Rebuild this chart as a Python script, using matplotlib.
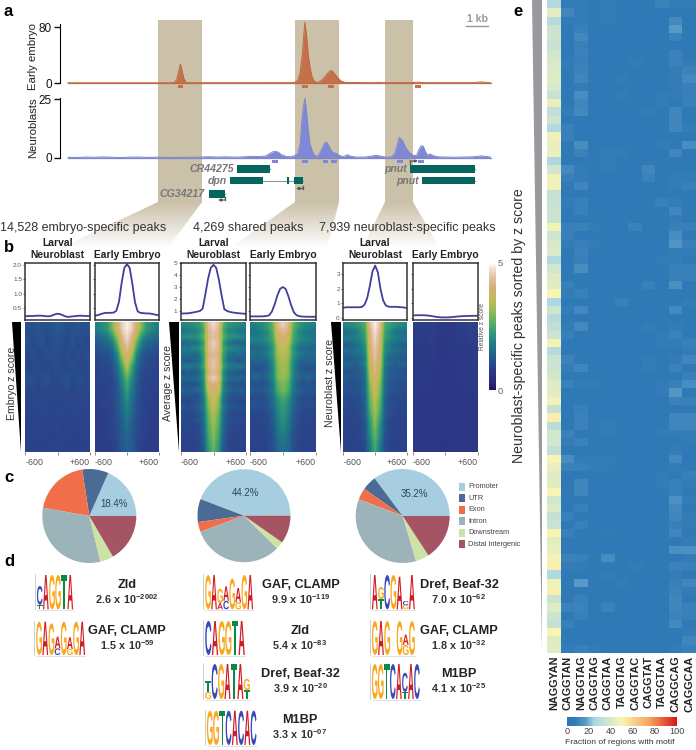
"""Multi-panel figure: ChIP tracks, z score heatmaps, annotation pies, motifs, motif heatmap"""
import numpy as np
import matplotlib
matplotlib.use('Agg')
import matplotlib.pyplot as plt
from matplotlib.colors import LinearSegmentedColormap
from matplotlib.patches import PathPatch, Polygon, Rectangle
from matplotlib.path import Path
from matplotlib.textpath import TextPath
from matplotlib.font_manager import FontProperties
from matplotlib.transforms import Affine2D

plt.rcParams['font.family'] = ['Liberation Sans', 'DejaVu Sans']
plt.rcParams['mathtext.fontset'] = 'custom'
plt.rcParams['mathtext.bf'] = 'Liberation Sans:bold'
plt.rcParams['mathtext.rm'] = 'Liberation Sans'

W, H = 696, 750

# ---- panel a: tracks, positions in kb
embryo_kb = [0, 4.7, 4.85, 4.95, 5.05, 5.11, 5.18, 5.27, 5.36, 5.5, 10.2, 10.3, 10.45, 10.55, 10.65, 10.72, 10.77,
             10.85, 10.92, 11.0, 11.1, 11.2, 11.3, 11.45, 11.6, 11.75, 11.9, 11.98, 12.1, 12.25, 12.4, 12.6, 13.5,
             14.0, 14.1, 14.25, 15.6, 15.9, 16.2, 18.4, 18.77, 19.2]
embryo_val = [.3, .3, 1, 6, 20, 27, 18, 6, 1, .4, .5, .8, 4, 15, 40, 70, 87,
              65, 40, 22, 8, 2.5, .7, 2, 6, 12, 17, 18, 14, 8, 3, .8, .5,
              .5, 1.2, .5, .5, 1.3, .5, .5, 1.5, .4]
neuro_kb = [0, .4, .8, 1.2, 1.6, 2, 2.4, 2.8, 3.2, 3.6, 4, 4.4, 4.8, 5.2, 5.6, 6, 6.4, 6.8, 7.2, 7.6, 8, 8.4, 8.7, 9,
            9.15, 9.3, 9.42, 9.55, 9.7, 9.9, 10.1, 10.3, 10.45, 10.55, 10.62, 10.7, 10.77, 10.85, 10.93, 11.0, 11.1,
            11.2, 11.3, 11.42, 11.55, 11.65, 11.75, 11.85, 11.95, 12.05, 12.15, 12.25, 12.4, 12.55, 12.7, 12.85,
            13.1, 13.5, 13.8, 14, 14.2, 14.5, 14.7, 14.85, 14.95, 15.05, 15.2, 15.35, 15.5, 15.7, 15.85, 15.95,
            16.05, 16.15, 16.25, 16.35, 16.45, 16.6, 16.8, 17.2, 17.6, 18, 18.4, 18.8, 19.2]
neuro_val = [.3, .2, .4, .3, .45, .3, .2, .35, .4, .25, .35, .3, .2, .35, .3, .4, .55, .4, .5, .35, .5, .7, .6, .9,
             1.8, 2.6, 2.9, 2.5, 1.4, .7, .5, 1.0, 2, 6, 15, 22, 25.5, 19, 11, 6, 3,
             1.2, .7, 1.6, 4, 6.2, 6.8, 5.3, 3.4, 2.3, 2.1, 1.6, .8, .7, 1.4, .7,
             .4, .4, .8, 1.2, .8, .3, .5, 1.8, 5, 8.8, 7.5, 4.5, 2.5, 1, 1.2, 3.6,
             5.2, 5, 2.6, 1.2, 1.7, 1.0, .5, .4, .3, .4, .5, .9, .4]
embryo_peaks = [5.11, 10.77, 11.95, 15.9]
neuro_peaks = [9.41, 10.77, 11.7, 12.1, 15.1, 16.05]

gene_names = ['CR44275', 'dpn', 'CG34217', 'pnut', 'pnut']
gene_exons = [[(7.68, 9.16)], [(7.36, 8.86), (9.94, 10.05), (10.27, 10.68)], [(6.4, 7.13)],
              [(15.55, 18.5)], [(16.1, 18.5)]]
gene_rows = [0, 1, 2, 0, 1]
peak_titles = ['14,528 embryo-specific peaks', '4,269 shared peaks', '7,939 neuroblast-specific peaks']

# ---- panel b: mean profiles, -600..600 every 50 bp
profile_x = list(range(-600, 601, 50))
prof_nb_emb = [.21, .22, .22, .22, .23, .23, .23, .22, .21, .21, .24, .28, .3, .28, .24, .2, .19, .2, .21, .22, .23, .23, .22, .22, .22]
prof_em_emb = [.23, .25, .28, .31, .33, .33, .33, .34, .4, .72, 1.38, 1.9, 2.03, 1.9, 1.35, .7, .38, .33, .32, .31, .31, .3, .28, .26, .24]
prof_nb_sha = [.78, .8, .8, .82, .86, .9, .95, 1.0, 1.2, 2.4, 3.7, 4.6, 4.85, 4.6, 3.6, 2.3, 1.15, 1.0, .93, .88, .85, .82, .8, .78, .76]
prof_em_sha = [.55, .55, .55, .55, .55, .56, .58, .65, .95, 1.55, 2.3, 2.85, 3.0, 2.85, 2.25, 1.5, .9, .65, .57, .54, .53, .52, .52, .52, .52]
prof_nb_nbs = [.68, .72, .72, .72, .72, .72, .72, .74, .9, 1.35, 2.2, 3.2, 3.6, 3.15, 2.0, 1.2, .85, .76, .75, .75, .75, .73, .72, .7, .66]
prof_em_nbs = [.16, .16, .17, .17, .17, .16, .14, .11, .08, .05, .03, .02, .02, .02, .03, .05, .07, .09, .1, .11, .12, .12, .13, .13, .13]

# z score heatmaps, rows from top to bottom, columns -600..600 every 100 bp
hm_nb_emb = [[1.1, 1.1, 1.2, 1.1, 1.1, 1.2, 1.3, 1.2, 1.1, 1.1, 1.2, 1.1, 1.1],
             [1.2, 1.0, 1.1, 1.2, 1.0, 1.1, 1.2, 1.1, 1.0, 1.2, 1.0, 1.1, 1.0],
             [1.0, 1.1, 1.0, 1.0, 1.1, 1.1, 1.1, 1.0, 1.1, 1.0, 1.1, 1.0, 1.1],
             [1.0, 1.0, 1.1, 1.0, 1.0, 1.0, 1.1, 1.0, 1.0, 1.1, 1.0, 1.0, 1.0],
             [1.2, 1.1, 1.0, 1.1, 1.2, 1.0, 1.0, 1.1, 1.2, 1.0, 1.1, 1.1, 1.0],
             [.95, 1.0, .95, 1.0, .95, 1.0, 1.0, .95, 1.0, .95, 1.0, .95, 1.0],
             [1.0, .95, 1.0, .95, 1.0, .95, .95, 1.0, .95, 1.0, .95, 1.0, .95],
             [.95, .95, .95, 1.0, .95, .95, 1.0, .95, .95, .95, 1.0, .95, .95],
             [.9, .95, .9, .9, .95, .9, .95, .9, .95, .9, .9, .95, .9],
             [.9, .9, .9, .9, .9, .95, .95, .9, .9, .9, .9, .9, .9]]
hm_em_emb = [[1.8, 2.0, 2.2, 2.9, 3.9, 4.6, 4.9, 4.6, 3.9, 2.9, 2.2, 2.0, 1.8],
             [1.3, 1.4, 1.5, 1.8, 2.8, 4.1, 4.6, 4.1, 2.8, 1.8, 1.5, 1.4, 1.3],
             [1.0, 1.1, 1.1, 1.3, 1.9, 3.3, 4.1, 3.3, 1.9, 1.3, 1.1, 1.1, 1.0],
             [.95, 1.0, 1.0, 1.1, 1.5, 2.4, 3.4, 2.4, 1.5, 1.1, 1.0, 1.0, .95],
             [.9, .95, .95, 1.0, 1.3, 1.9, 2.6, 1.9, 1.3, 1.0, .95, .95, .9],
             [.9, .9, .95, 1.0, 1.2, 1.6, 2.2, 1.6, 1.2, 1.0, .95, .9, .9],
             [.85, .9, .9, .95, 1.15, 1.5, 1.9, 1.5, 1.15, .95, .9, .9, .85],
             [.85, .85, .9, .95, 1.1, 1.35, 1.7, 1.35, 1.1, .95, .9, .85, .85],
             [.85, .85, .9, .95, 1.05, 1.3, 1.5, 1.3, 1.05, .95, .9, .85, .85],
             [.85, .85, .85, .9, 1.0, 1.25, 1.35, 1.25, 1.0, .9, .85, .85, .85]]
hm_nb_sha = [[1.9, 2.0, 2.1, 2.2, 2.7, 4.4, 4.7, 4.4, 2.7, 2.2, 2.1, 2.0, 1.9],
             [1.6, 1.7, 1.8, 1.9, 2.5, 4.2, 4.5, 4.3, 2.5, 1.9, 1.8, 1.7, 1.6],
             [2.0, 2.1, 2.0, 2.2, 2.7, 4.2, 4.4, 4.2, 2.7, 2.2, 2.1, 2.0, 1.9],
             [1.4, 1.5, 1.6, 1.7, 2.3, 4.3, 4.6, 4.3, 2.3, 1.7, 1.5, 1.4, 1.4],
             [1.8, 1.7, 1.9, 2.0, 2.5, 4.2, 4.5, 4.2, 2.5, 2.0, 1.9, 1.8, 1.7],
             [1.5, 1.6, 1.4, 1.6, 2.3, 4.1, 4.3, 4.1, 2.3, 1.6, 1.5, 1.6, 1.4],
             [1.3, 1.2, 1.4, 1.5, 2.2, 4.2, 4.4, 4.2, 2.2, 1.5, 1.4, 1.2, 1.3],
             [1.7, 1.8, 1.6, 1.8, 2.4, 4.2, 4.5, 4.2, 2.4, 1.8, 1.7, 1.8, 1.6],
             [1.2, 1.3, 1.2, 1.4, 2.0, 4.0, 4.3, 4.0, 2.0, 1.4, 1.3, 1.2, 1.2],
             [1.5, 1.4, 1.5, 1.6, 2.1, 4.3, 4.6, 4.3, 2.1, 1.6, 1.4, 1.5, 1.4],
             [1.1, 1.2, 1.1, 1.3, 1.9, 3.9, 4.1, 3.9, 1.9, 1.3, 1.2, 1.1, 1.1],
             [1.4, 1.3, 1.4, 1.5, 1.9, 3.8, 4.0, 3.8, 1.9, 1.5, 1.3, 1.4, 1.3],
             [1.1, 1.2, 1.1, 1.2, 1.7, 3.3, 3.9, 3.3, 1.7, 1.2, 1.1, 1.2, 1.1],
             [1.0, 1.0, 1.1, 1.2, 1.6, 3.1, 3.7, 3.1, 1.6, 1.2, 1.1, 1.0, 1.0],
             [1.2, 1.1, 1.2, 1.3, 1.7, 3.0, 3.6, 3.0, 1.7, 1.3, 1.2, 1.1, 1.1],
             [1.0, 1.0, 1.0, 1.1, 1.5, 2.8, 3.4, 2.8, 1.5, 1.1, 1.0, 1.0, 1.0],
             [1.1, 1.0, 1.1, 1.2, 1.5, 2.7, 3.3, 2.7, 1.5, 1.2, 1.0, 1.1, 1.0],
             [.95, 1.0, .95, 1.05, 1.4, 2.6, 3.2, 2.6, 1.4, 1.05, 1.0, .95, .95],
             [1.0, .95, 1.0, 1.05, 1.4, 2.5, 3.1, 2.5, 1.4, 1.05, .95, 1.0, .95],
             [.95, .95, .95, 1.0, 1.3, 2.4, 3.0, 2.4, 1.3, 1.0, .95, .95, .95],
             [.9, .95, .9, 1.0, 1.3, 2.3, 2.9, 2.3, 1.3, 1.0, .9, .95, .9],
             [.9, .9, .9, 1.0, 1.2, 2.2, 2.8, 2.2, 1.2, 1.0, .9, .9, .9]]
hm_em_sha = [[1.8, 1.9, 2.0, 2.3, 2.8, 4.3, 4.6, 4.3, 2.8, 2.3, 2.0, 1.9, 1.8],
             [1.6, 1.7, 1.8, 2.0, 2.6, 4.0, 4.2, 4.0, 2.6, 2.0, 1.8, 1.7, 1.6],
             [1.9, 1.8, 1.9, 2.1, 2.5, 3.7, 3.9, 3.7, 2.5, 2.1, 1.9, 1.8, 1.7],
             [1.4, 1.5, 1.5, 1.7, 2.2, 3.4, 3.6, 3.4, 2.2, 1.7, 1.5, 1.5, 1.4],
             [1.6, 1.5, 1.6, 1.8, 2.2, 3.3, 3.5, 3.3, 2.2, 1.8, 1.6, 1.5, 1.5],
             [1.3, 1.4, 1.3, 1.5, 2.0, 3.1, 3.3, 3.1, 2.0, 1.5, 1.3, 1.4, 1.3],
             [1.2, 1.1, 1.2, 1.4, 1.9, 3.0, 3.3, 3.0, 1.9, 1.4, 1.2, 1.1, 1.2],
             [1.4, 1.5, 1.3, 1.5, 1.9, 3.0, 3.2, 3.0, 1.9, 1.5, 1.3, 1.5, 1.3],
             [1.1, 1.2, 1.1, 1.3, 1.7, 2.7, 3.0, 2.7, 1.7, 1.3, 1.1, 1.2, 1.1],
             [1.3, 1.2, 1.3, 1.4, 1.7, 2.6, 2.9, 2.6, 1.7, 1.4, 1.3, 1.2, 1.2],
             [1.0, 1.1, 1.0, 1.2, 1.5, 2.2, 2.5, 2.2, 1.5, 1.2, 1.0, 1.1, 1.0],
             [1.2, 1.1, 1.1, 1.2, 1.5, 2.0, 2.3, 2.0, 1.5, 1.2, 1.1, 1.1, 1.1],
             [1.0, 1.0, 1.0, 1.1, 1.3, 1.9, 2.2, 1.9, 1.3, 1.1, 1.0, 1.0, 1.0],
             [.95, 1.0, .95, 1.05, 1.3, 1.8, 2.1, 1.8, 1.3, 1.05, .95, 1.0, .95],
             [1.0, .95, 1.0, 1.05, 1.2, 1.7, 2.0, 1.7, 1.2, 1.05, 1.0, .95, .95],
             [.95, .95, .95, 1.0, 1.15, 1.6, 1.8, 1.6, 1.15, 1.0, .95, .95, .95],
             [.9, .95, .9, 1.0, 1.15, 1.5, 1.7, 1.5, 1.15, 1.0, .9, .95, .9],
             [.9, .9, .9, 1.0, 1.1, 1.45, 1.6, 1.45, 1.1, 1.0, .9, .9, .9]]
hm_nb_nbs = [[1.9, 2.0, 2.1, 2.3, 2.6, 4.4, 4.9, 4.4, 2.6, 2.3, 2.1, 2.0, 1.9],
             [1.5, 1.6, 1.7, 2.0, 2.4, 4.2, 4.8, 4.2, 2.4, 2.0, 1.7, 1.6, 1.5],
             [1.8, 1.7, 1.8, 2.0, 2.3, 4.1, 4.7, 4.1, 2.3, 2.0, 1.8, 1.7, 1.7],
             [1.3, 1.4, 1.5, 1.7, 2.1, 4.0, 4.6, 4.0, 2.1, 1.7, 1.5, 1.4, 1.3],
             [1.6, 1.5, 1.6, 1.7, 2.0, 3.9, 4.5, 3.9, 2.0, 1.7, 1.6, 1.5, 1.5],
             [1.2, 1.3, 1.4, 1.4, 1.8, 3.8, 4.4, 3.8, 1.8, 1.4, 1.4, 1.3, 1.2],
             [1.5, 1.4, 1.3, 1.5, 1.8, 3.7, 4.3, 3.7, 1.8, 1.5, 1.3, 1.4, 1.4],
             [1.1, 1.2, 1.2, 1.3, 1.6, 3.5, 4.2, 3.5, 1.6, 1.3, 1.2, 1.2, 1.1],
             [1.3, 1.2, 1.3, 1.3, 1.6, 3.3, 4.0, 3.3, 1.6, 1.3, 1.3, 1.2, 1.2],
             [1.1, 1.1, 1.1, 1.2, 1.5, 3.1, 3.8, 3.1, 1.5, 1.2, 1.1, 1.1, 1.1],
             [1.2, 1.1, 1.2, 1.2, 1.5, 3.0, 3.7, 3.0, 1.5, 1.2, 1.2, 1.1, 1.1],
             [1.0, 1.1, 1.0, 1.1, 1.4, 2.8, 3.6, 2.8, 1.4, 1.1, 1.0, 1.1, 1.0],
             [1.1, 1.0, 1.1, 1.1, 1.4, 2.7, 3.4, 2.7, 1.4, 1.1, 1.1, 1.0, 1.0],
             [1.0, 1.0, 1.0, 1.1, 1.3, 2.6, 3.3, 2.6, 1.3, 1.1, 1.0, 1.0, 1.0],
             [1.0, .95, 1.0, 1.05, 1.3, 2.4, 3.2, 2.4, 1.3, 1.05, 1.0, .95, .95],
             [.95, .95, .95, 1.0, 1.2, 2.2, 3.1, 2.2, 1.2, 1.0, .95, .95, .95],
             [.95, .95, .95, 1.0, 1.2, 2.1, 2.9, 2.1, 1.2, 1.0, .95, .95, .95],
             [.9, .95, .9, 1.0, 1.15, 2.0, 2.8, 2.0, 1.15, 1.0, .9, .95, .9],
             [.9, .9, .9, .95, 1.1, 1.8, 2.6, 1.8, 1.1, .95, .9, .9, .9],
             [.9, .9, .9, .95, 1.1, 1.7, 2.5, 1.7, 1.1, .95, .9, .9, .9]]
hm_em_nbs = [[.85, .9, .85, .9, .85, .8, .8, .8, .85, .9, .85, .95, .9],
             [.8, .85, .8, .85, .8, .75, .75, .8, .8, .85, .8, .85, .85],
             [.8, .8, .85, .8, .8, .75, .75, .75, .8, .8, .85, .8, .8],
             [.8, .8, .8, .8, .75, .75, .7, .75, .75, .8, .8, .8, .8],
             [.75, .8, .75, .8, .75, .7, .7, .7, .75, .75, .8, .75, .8],
             [.75, .75, .75, .75, .75, .7, .7, .7, .75, .75, .75, .75, .75],
             [.75, .75, .75, .75, .7, .7, .7, .7, .7, .75, .75, .75, .75],
             [.75, .75, .7, .75, .7, .7, .65, .7, .7, .7, .75, .7, .75]]
hm_titles = ['Larval\nNeuroblast', 'Early Embryo'] * 3
rank_labels = ['Embryo z score', 'Average z score', 'Neuroblast z score']

# ---- panel c
pie_labels = ['Promoter', 'UTR', 'Exon', 'Intron', 'Downstream', 'Distal Intergenic']
pie_colors = ['#a6cee0', '#4b6a94', '#f06f4a', '#9db3ba', '#cde2a5', '#a55464']
pie_embryo = [18.4, 9.0, 19.8, 31.6, 4.6, 16.6]
pie_shared = [44.2, 8.0, 3.4, 32.0, 2.7, 9.7]
pie_neuro = [35.2, 5.0, 4.0, 35.4, 4.6, 15.8]

# ---- panel d, stacks listed top to bottom as (letter, height)
F = 1.0
zld_a = [[('C', .55), ('T', .13)], [('A', F)], [('G', F)], [('G', F)], [('T', F)], [('A', F)]]
gaf_a = [[('G', F)], [('A', F)], [('G', .95)], [('A', .35), ('C', .2)], [('G', F)], [('A', .35), ('G', .18)], [('G', F)], [('A', F)]]
gaf_b = [[('G', F)], [('A', F)], [('G', .42), ('A', .18)], [('A', .42), ('C', .25)], [('G', .9)], [('A', .42), ('G', .2)], [('G', F)], [('A', F)]]
zld_b = [[('C', F)], [('A', F)], [('G', F)], [('G', F)], [('T', F)], [('A', F)]]
dref_b = [[('T', .32), ('G', .2)], [('C', F)], [('G', F)], [('A', F)], [('T', F)], [('A', F)], [('G', .33), ('T', .25)]]
m1bp_b = [[('G', F)], [('G', F)], [('T', F)], [('C', F)], [('A', F)], [('C', F)], [('A', F)], [('C', F)]]
dref_c = [[('A', F)], [('G', .35), ('T', .3)], [('C', F)], [('G', F)], [('A', .95)], [('C', .12), ('G', .12)], [('A', F)]]
gaf_c = [[('G', F)], [('A', F)], [('G', F)], [], [('G', F)], [('A', .3), ('G', .3)], [('G', F)]]
m1bp_c = [[('G', F)], [('G', F)], [('T', F)], [('C', F)], [('A', F)], [('C', .55), ('T', .2)], [('A', F)], [('C', F)]]
motif_stacks = [zld_a, gaf_a, gaf_b, zld_b, dref_b, m1bp_b, dref_c, gaf_c, m1bp_c]
motif_names = ['Zld', 'GAF, CLAMP', 'GAF, CLAMP', 'Zld', 'Dref, Beaf-32', 'M1BP', 'Dref, Beaf-32', 'GAF, CLAMP', 'M1BP']
motif_mant = ['2.6', '1.5', '9.9', '5.4', '3.9', '3.3', '7.0', '1.8', '4.1']
motif_exp = ['-2002', '-59', '-119', '-83', '-20', '-07', '-62', '-32', '-25']
letter_colors = {'A': '#d01c24', 'C': '#3a48b8', 'G': '#f9a81e', 'T': '#0b8a45'}

# ---- panel e
motif_cols = ['NAGGYAN', 'CAGGTAN', 'NAGGTAG', 'CAGGTAG', 'CAGGTAA', 'TAGGTAG', 'CAGGTAC', 'CAGGTAT', 'TAGGTAA', 'CAGGCAG', 'CAGGCAA']
motif_frac = [
    [28, 8, 8, 7, 8, 7, 7, 7, 10, 8, 8], [44, 11, 8, 7, 8, 7, 7, 7, 7, 7, 7], [30, 8, 8, 7, 8, 7, 7, 7, 7, 12, 7],
    [36, 7, 9, 7, 7, 7, 7, 7, 7, 17, 6], [37, 6, 12, 7, 7, 7, 7, 7, 7, 10, 6], [35, 6, 9, 7, 7, 7, 7, 7, 7, 7, 6],
    [38, 6, 10, 7, 7, 7, 7, 7, 7, 10, 6], [40, 8, 9, 7, 7, 7, 8, 7, 7, 10, 8], [41, 6, 10, 7, 7, 7, 7, 7, 7, 8, 10],
    [42, 6, 11, 7, 7, 8, 7, 7, 7, 8, 12], [40, 6, 8, 7, 7, 7, 7, 7, 7, 8, 9], [35, 6, 13, 7, 7, 8, 7, 7, 8, 8, 9],
    [45, 7, 11, 7, 7, 7, 7, 7, 8, 7, 9], [33, 8, 12, 7, 7, 7, 7, 8, 7, 11, 6], [37, 7, 7, 7, 7, 7, 7, 7, 7, 11, 7],
    [29, 9, 7, 7, 7, 7, 7, 7, 7, 11, 8], [47, 9, 7, 7, 7, 7, 7, 7, 7, 7, 7], [46, 6, 13, 7, 7, 7, 7, 7, 8, 6, 13],
    [46, 6, 10, 7, 8, 8, 7, 7, 7, 11, 7], [27, 7, 7, 7, 8, 7, 7, 7, 7, 7, 7], [38, 12, 8, 7, 8, 7, 7, 11, 7, 7, 7],
    [48, 9, 8, 7, 7, 7, 7, 10, 7, 8, 8], [48, 7, 11, 7, 7, 7, 7, 7, 7, 8, 9], [34, 6, 7, 7, 7, 7, 7, 7, 7, 7, 7],
    [35, 8, 9, 7, 7, 7, 7, 7, 9, 8, 7], [36, 6, 9, 7, 7, 7, 7, 7, 7, 11, 7], [36, 6, 7, 7, 7, 7, 7, 7, 7, 8, 7],
    [48, 9, 10, 8, 7, 7, 10, 7, 7, 9, 9], [37, 9, 7, 7, 7, 7, 7, 7, 7, 13, 5], [40, 8, 9, 8, 7, 7, 7, 7, 7, 15, 9],
    [41, 6, 10, 7, 7, 7, 7, 7, 7, 8, 8], [28, 6, 9, 7, 7, 7, 7, 7, 8, 8, 6], [38, 6, 13, 7, 7, 7, 7, 7, 7, 9, 9],
    [42, 6, 7, 7, 7, 7, 7, 7, 7, 9, 9], [43, 9, 6, 7, 7, 7, 7, 9, 7, 14, 7], [50, 8, 9, 7, 7, 7, 7, 7, 7, 7, 7],
    [27, 6, 6, 7, 7, 9, 7, 7, 7, 7, 8], [37, 8, 12, 7, 7, 7, 7, 7, 7, 12, 6], [30, 7, 7, 7, 7, 7, 7, 7, 7, 7, 7],
    [33, 8, 12, 7, 7, 7, 7, 8, 7, 8, 6], [36, 9, 7, 7, 7, 7, 7, 7, 8, 10, 6], [49, 6, 7, 7, 7, 7, 7, 7, 8, 8, 9],
    [30, 6, 7, 7, 7, 7, 7, 7, 7, 7, 8], [36, 10, 7, 7, 7, 7, 7, 8, 7, 8, 11], [37, 8, 11, 7, 7, 7, 7, 8, 7, 10, 7],
    [39, 6, 7, 7, 7, 7, 7, 7, 7, 7, 9], [42, 10, 8, 8, 7, 7, 7, 7, 8, 9, 13], [43, 6, 7, 7, 7, 7, 7, 7, 8, 16, 6],
    [48, 6, 7, 7, 7, 7, 7, 7, 7, 10, 9], [34, 6, 9, 7, 7, 7, 7, 7, 7, 6, 6], [52, 7, 10, 7, 7, 7, 7, 7, 7, 11, 11],
    [31, 7, 10, 7, 8, 7, 7, 7, 7, 11, 11], [38, 10, 6, 7, 8, 7, 7, 7, 8, 8, 8], [38, 8, 10, 7, 7, 7, 7, 7, 7, 7, 8],
    [33, 7, 7, 7, 7, 7, 7, 7, 7, 8, 7], [50, 13, 8, 8, 8, 7, 7, 7, 7, 12, 6], [45, 10, 9, 8, 8, 7, 7, 7, 7, 8, 7],
    [42, 6, 7, 7, 7, 7, 7, 7, 8, 7, 9], [43, 7, 11, 7, 7, 7, 7, 7, 8, 9, 8], [50, 7, 11, 7, 7, 7, 7, 7, 7, 9, 6],
    [38, 7, 7, 7, 7, 7, 7, 7, 7, 14, 8], [41, 6, 9, 7, 7, 7, 7, 7, 7, 12, 6], [34, 9, 7, 7, 7, 7, 7, 7, 7, 11, 8],
    [36, 6, 9, 7, 7, 7, 7, 7, 7, 9, 8], [50, 9, 7, 7, 8, 7, 7, 7, 7, 11, 6], [44, 7, 7, 7, 7, 7, 7, 7, 7, 7, 8],
    [45, 7, 7, 7, 7, 7, 7, 7, 7, 14, 14], [48, 10, 9, 7, 13, 7, 7, 7, 7, 6, 8], [52, 8, 8, 7, 7, 7, 8, 7, 7, 10, 9],
    [28, 7, 7, 7, 8, 7, 7, 7, 7, 8, 7], [47, 6, 17, 7, 7, 8, 7, 7, 7, 9, 11], [52, 6, 7, 7, 7, 7, 7, 7, 7, 10, 8],
    [36, 7, 9, 7, 7, 7, 7, 7, 7, 11, 6], [42, 10, 10, 7, 10, 7, 7, 7, 7, 11, 9], [37, 6, 9, 7, 7, 7, 7, 7, 7, 10, 9],
    [34, 9, 7, 7, 7, 7, 7, 7, 7, 12, 7], [50, 7, 7, 7, 7, 7, 7, 7, 7, 7, 8], [42, 7, 7, 7, 7, 7, 7, 7, 7, 6, 11],
    [43, 8, 9, 8, 7, 7, 7, 7, 7, 8, 9],
]

# ---- colours
TRACK_E, FILL_E = '#bd6a42', '#c4704a'
TRACK_N, FILL_N = '#7f87cc', '#7f88d6'
BAND = '#cbc0a8'
GENE = '#07655f'
TXT = '#222222'
zscore_cmap = LinearSegmentedColormap.from_list('zscore', [
    (0, '#1e1450'), (.06, '#2a2a78'), (.16, '#2d3a88'), (.24, '#26568f'), (.36, '#1e7f86'), (.48, '#3ba36e'),
    (.6, '#84b955'), (.7, '#c0bb55'), (.8, '#d4b070'), (.88, '#e0bfa0'), (.96, '#f3e2d5'), (1, '#ffffff')])
motif_cmap = LinearSegmentedColormap.from_list('motif', [
    (0, '#2c76b6'), (.07, '#307ab7'), (.17, '#5a9ac6'), (.25, '#a8d6e6'), (.5, '#f8f5b5'), (.75, '#f8a55c'), (1, '#d7191c')])


def px_ax(x0, y0, x1, y1, **kw):
    """axes placed by pixel box of the 696x750 picture"""
    return fig.add_axes([x0 / W, 1 - y1 / H, (x1 - x0) / W, (y1 - y0) / H], **kw)


fig = plt.figure(figsize=(W / 100, H / 100), dpi=100)
ov = px_ax(0, 0, W, H, zorder=0)
ov.set_xlim(0, W)
ov.set_ylim(H, 0)
ov.axis('off')

for letter, lx, ly in [('a', 4, 11), ('b', 4, 247), ('c', 4, 478), ('d', 4, 562), ('e', 513, 12)]:
    ov.text(lx, ly, letter, fontsize=12, fontweight='bold', color='black', ha='left', va='center')

# bands running from the tracks down to the heatmaps
bands = [(158, 202, 60, 168), (295, 339, 230, 327), (385, 413, 362, 440)]
fade = np.ones((64, 2, 4))
fade[..., :3] = matplotlib.colors.to_rgb(BAND)
fade[..., 3] = np.linspace(1, 0, 64)[:, None]
for x0, x1, low0, low1 in bands:
    ov.add_patch(Rectangle((x0, 20), x1 - x0, 182, color=BAND, lw=0))
    im = ov.imshow(fade, extent=(0, W, 248, 202), aspect='auto', zorder=1)
    im.set_clip_path(Polygon([(x0, 202), (x1, 202), (low1, 248), (low0, 248)], transform=ov.transData))
ov.set_xlim(0, W)
ov.set_ylim(H, 0)

for title, tx, ty in zip(peak_titles, [0, 193, 319], [228, 228, 227.5]):
    ov.text(tx, ty, title, fontsize=9, color='#333333', ha='left', va='center', zorder=3)

# tracks
ax_e = px_ax(59.5, 20, 491.5, 90, zorder=2, facecolor='none')
ax_n = px_ax(59.5, 95, 491.5, 165, zorder=2, facecolor='none')
for ax, kb, val, peaks, fill, line, ylim, ticks, top, bar in [
        (ax_e, embryo_kb, embryo_val, embryo_peaks, FILL_E, TRACK_E, (-10, 90), [0, 80], 84, (-2.9, -4.2)),
        (ax_n, neuro_kb, neuro_val, neuro_peaks, FILL_N, TRACK_N, (-3, 26.9), [0, 25], 25.6, (-.85, -1.1))]:
    ax.fill_between(kb, 0, val, color=fill, lw=0)
    ax.plot(kb, val, color=line, lw=.7)
    ax.axhline(0, xmin=.02, color=line, lw=.9)
    ax.bar(peaks, bar[1], bottom=bar[0], width=.25, color=fill, lw=0)
    ax.set_xlim(-.386, 19.25)
    ax.set_ylim(*ylim)
    ax.set_xticks([])
    ax.set_yticks(ticks)
    ax.tick_params(axis='y', length=4.5, width=1, labelsize=8.5, pad=1, colors='#111111')
    for side in ['top', 'right', 'bottom']:
        ax.spines[side].set_visible(False)
    ax.spines['left'].set_bounds(0, top)
ov.text(33, 57, 'Early embryo', rotation=90, fontsize=8.2, color=TXT, ha='center', va='center')
ov.text(33, 128, 'Neuroblasts', rotation=90, fontsize=8.2, color=TXT, ha='center', va='center')
ov.plot([466, 488], [25.7, 25.7], color='#999999', lw=1)
ov.text(477, 19.5, '1 kb', fontsize=7.5, fontweight='bold', color='#999999', ha='center', va='center')

# gene models
ax_g = px_ax(59.5, 163, 491.5, 200, zorder=2, facecolor='none')
ax_g.set_xlim(-.386, 19.25)
ax_g.set_ylim(163, 200)
ax_g.invert_yaxis()
ax_g.axis('off')
row_y = [169, 180.7, 194]
label_px = [234, 227, 205, 407, 419]
for name, exons, row, lx in zip(gene_names, gene_exons, gene_rows, label_px):
    y = row_y[row]
    ax_g.plot([exons[0][0], exons[-1][1]], [y, y], color='#8a9a98', lw=.8, zorder=1)
    for start, end in exons:
        ax_g.add_patch(Rectangle((start, y - 3.8), end - start, 7.6, color=GENE, lw=0, zorder=2))
    ov.text(lx, y, name, fontsize=7.6, style='italic', fontweight='bold', color='#777777', ha='right', va='center', zorder=3)
for (x0, y0, x1, y1) in [(303, 188.5, 296, 188.5), (225, 200, 218, 200), (410, 161, 418, 161)]:
    ov.annotate('', xy=(x1, y1), xytext=(x0, y0), zorder=3,
                arrowprops=dict(arrowstyle='-|>', color='#555555', lw=.9, mutation_scale=4, shrinkA=0, shrinkB=0))
    ov.plot([x0, x0], [y0 - 3 if y0 > 170 else y0 + 3, y0], color='#555555', lw=.9, zorder=3)

# panel b
col_x = [(25.5, 90), (95, 159), (181, 246), (250, 315.7), (343.3, 407), (412.7, 477.7)]
profiles = [prof_nb_emb, prof_em_emb, prof_nb_sha, prof_em_sha, prof_nb_nbs, prof_em_nbs]
matrices = [hm_nb_emb, hm_em_emb, hm_nb_sha, hm_em_sha, hm_nb_nbs, hm_em_nbs]
prof_lims = [(.08, 2.08)] * 2 + [(.25, 5.03)] * 2 + [(-.16, 3.8)] * 2
prof_ticks = [[.5, 1, 1.5, 2]] * 2 + [[1, 2, 3, 4, 5]] * 2 + [[0, 1, 2, 3]] * 2
for i, (xr, prof, mat) in enumerate(zip(col_x, profiles, matrices)):
    ap = px_ax(xr[0], 262.7, xr[1], 320, zorder=2)
    ap.plot(profile_x, prof, color='#3f3f9e', lw=1.3)
    ap.set_xlim(-600, 600)
    ap.set_ylim(*prof_lims[i])
    ap.set_xticks([])
    ap.set_yticks(prof_ticks[i])
    ap.tick_params(axis='y', length=1.5, width=.6, labelsize=4.6, pad=1, colors='#555555')
    if i % 2:
        ap.set_yticklabels([])
    else:
        ap.set_yticklabels([f'{t:g}' if i else f'{t:.1f}' for t in prof_ticks[i]])
    for s in ap.spines.values():
        s.set_linewidth(1.1)
        s.set_color('#333333')

    ah = px_ax(xr[0], 322, xr[1], 452, zorder=2)
    zim = ah.imshow(mat, cmap=zscore_cmap, vmin=0, vmax=5, aspect='auto', interpolation='bilinear',
                    extent=(-600, 600, 0, 1))
    ah.set_yticks([])
    ah.set_xticks([-600, 0, 600])
    ah.set_xticklabels(['-600', '', '+600'], fontsize=6.4, color='#555555')
    ah.get_xticklabels()[0].set_ha('left')
    ah.get_xticklabels()[2].set_ha('right')
    ah.tick_params(axis='x', length=2, width=.6, pad=2, color='#777777')
    for s in ah.spines.values():
        s.set_visible(False)

    cx = (xr[0] + xr[1]) / 2
    ov.text(cx, 249 if i % 2 == 0 else 255, hm_titles[i], fontsize=7.4, fontweight='bold', color=TXT,
            ha='center', va='center', linespacing=1.3, zorder=4)

for (x0, x1), label, lx in zip([(12, 21), (169.3, 178.5), (331, 340.7)], rank_labels, [12, 168, 330]):
    ov.add_patch(Polygon([(x0, 322), (x1, 322), (x1, 452)], color='black', lw=0))
    ov.text(lx, 383, label, rotation=90, fontsize=7.6, color='#333333', ha='center', va='center', zorder=3)

cb_ax = px_ax(489, 263, 496, 390, zorder=2)
cb = fig.colorbar(zim, cax=cb_ax, ticks=[0, 5])
cb.outline.set_visible(False)
cb.ax.tick_params(length=0, labelsize=6.8, labelcolor='#666666', pad=1)
ov.text(483, 327, 'Relative z score', rotation=90, fontsize=4.8, color='#555555', ha='center', va='center')

# panel c
pie_boxes = [(89.3, 516, 47), (244, 515.7, 46.5), (402.7, 516, 47)]
pie_text = [(114.5, 504), (245.7, 493), (414, 494)]
for vals, (cx, cy, r), (tx, ty) in zip([pie_embryo, pie_shared, pie_neuro], pie_boxes, pie_text):
    a_p = px_ax(cx - r - 1, cy - r - 1, cx + r + 1, cy + r + 1, zorder=2)
    a_p.pie(vals, colors=pie_colors, startangle=0, counterclock=True, radius=r / (r + 1),
            wedgeprops=dict(linewidth=0))
    a_p.set_xlim(-1, 1)
    a_p.set_ylim(-1, 1)
    a_p.text((tx - cx) / (r + 1), (cy - ty) / (r + 1), f'{vals[0]}%', fontsize=7, color='#2f4560', ha='center', va='center')
leg_y = [487, 498.3, 509.7, 521.3, 533, 544.3]
for lab, col, ly in zip(pie_labels, pie_colors, leg_y):
    ov.add_patch(Rectangle((458.7, ly - 4), 6.3, 8, color=col, lw=0))
    ov.text(468, ly, lab, fontsize=5.3, color='#444444', ha='left', va='center')

# panel d
logo_font = FontProperties(family='Liberation Sans', weight='bold')


def draw_letter(letter, x0, y_base, w, h):
    """stretch one glyph into the pixel box"""
    tp = TextPath((0, 0), letter, size=1, prop=logo_font)
    box = tp.get_extents()
    tr = Affine2D().translate(-box.x0, -box.y0).scale(w / box.width, -h / box.height).translate(x0, y_base)
    ov.add_patch(PathPatch(Path(tr.transform(tp.vertices), tp.codes), facecolor=letter_colors[letter], lw=0, zorder=3))


logo_boxes = [(36.7, 575, 73.3, 609.3), (36, 621.7, 85.3, 655), (205, 575, 253.3, 609.3), (205, 621, 245, 655),
              (205, 664, 250, 699), (206.7, 710.7, 256.7, 745), (371.7, 575, 415, 609.3), (371.7, 621, 415, 655),
              (371.7, 664, 420, 699)]
label_pos = [(127, 585), (127, 631), (300.5, 585), (300, 631), (300.5, 674), (300, 720), (459, 585), (459, 631), (459, 674)]
for stacks, (x0, y0, x1, y1), (tx, ty), name, mant, ex in zip(motif_stacks, logo_boxes, label_pos, motif_names, motif_mant, motif_exp):
    w = (x1 - x0) / len(stacks)
    for j, stack in enumerate(stacks):
        base = y1
        for letter, hgt in reversed(stack):
            draw_letter(letter, x0 + j * w + .2, base, w - .4, hgt * (y1 - y0))
            base -= hgt * (y1 - y0)
    ov.plot([x0 - 2, x0 - 2], [y0 - 1, y1], color='#aaaaaa', lw=.4)
    ov.plot([x0, x1], [y1 + 1, y1 + 1], color='#cccccc', lw=.4)
    ov.text(tx, ty, name, fontsize=9.2, fontweight='bold', color=TXT, ha='center', va='center')
    ov.text(tx, ty + 14, rf'$\mathbf{{{mant}\ x\ 10^{{{ex}}}}}$', fontsize=7.8, color='#333333', ha='center', va='center')

# panel e
ov.add_patch(Polygon([(531.7, 0), (542, 0), (542, 653)], color='#9a9a9e', lw=0))
ov.text(519, 326, 'Neuroblast-specific peaks sorted by z score', rotation=90, fontsize=10.2, color='#333333',
        ha='center', va='center')
ax_m = px_ax(547, 0, 696, 653, zorder=2)
mim = ax_m.imshow(motif_frac, cmap=motif_cmap, vmin=0, vmax=100, aspect='auto', interpolation='nearest')
ax_m.set_yticks([])
ax_m.set_xticks(range(len(motif_cols)))
ax_m.set_xticklabels(motif_cols, rotation=90, fontsize=7.8, fontweight='bold', color='#222222', va='top', ha='center')
ax_m.tick_params(axis='x', length=0, pad=2)
for s in ax_m.spines.values():
    s.set_visible(False)

cb_m_ax = px_ax(566.7, 716.7, 676.7, 725.7, zorder=2)
cbm = fig.colorbar(mim, cax=cb_m_ax, orientation='horizontal', ticks=[0, 20, 40, 60, 80, 100])
cbm.outline.set_visible(False)
cbm.ax.tick_params(length=0, labelsize=6.6, labelcolor='#444444', pad=1)
ov.text(620, 743, 'Fraction of regions with motif', fontsize=6.1, color='#333333', ha='center', va='center')

fig.savefig('out.png', dpi=100)
